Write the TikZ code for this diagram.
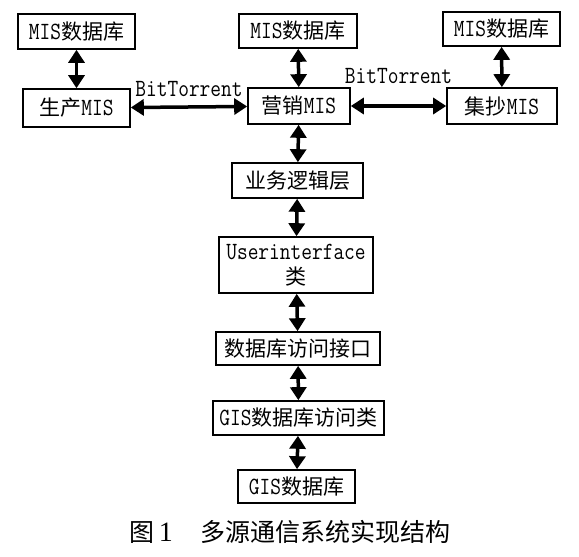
\documentclass[tikz,border=0pt]{standalone}
\usepackage{fontspec}
\setmainfont{Latin Modern Mono}[Scale=1.18, FakeStretch=0.84]
\newfontfamily\cjk{Noto Sans CJK SC}
\newfontfamily\capnum{Liberation Serif}
\usetikzlibrary{arrows.meta}
\tikzset{
  box/.style={draw, line width=1.6pt, inner sep=0pt, align=center,
    font=\fontsize{21}{25}\selectfont},
  link/.style={<->, >={Triangle[length=13pt,width=16pt]}, line width=3.5pt},
  lbl/.style={inner sep=0pt, font=\fontsize{21}{25}\selectfont}
}
\begin{document}
\begin{tikzpicture}[x=1pt, y=-1pt]
  \useasboundingbox (0,0) rectangle (579,557);
  % MIS databases
  \node[box, minimum width=117pt, minimum height=35pt] (dbA) at (76.5,31.5) {MIS{\cjk 数据库}};
  \node[box, minimum width=118pt, minimum height=34pt] (dbB) at (298,31) {MIS{\cjk 数据库}};
  \node[box, minimum width=117pt, minimum height=34pt] (dbC) at (501.5,29) {MIS{\cjk 数据库}};
  % MIS systems
  \node[box, minimum width=107pt, minimum height=38pt] (prod) at (76.5,108) {{\cjk 生产}MIS};
  \node[box, minimum width=102pt, minimum height=36pt] (sale) at (299,106) {{\cjk 营销}MIS};
  \node[box, minimum width=110pt, minimum height=36pt] (coll) at (502,106) {{\cjk 集抄}MIS};
  % Layers
  \node[box, minimum width=131pt, minimum height=35pt] (logic) at (297.5,180.5) {\cjk 业务逻辑层};
  \node[box, minimum width=154pt, minimum height=56pt] (ui) at (296,265) {Userinterface\\{\cjk 类}};
  \node[box, minimum width=164pt, minimum height=33pt] (dbif) at (298,348.5) {\cjk 数据库访问接口};
  \node[box, minimum width=171pt, minimum height=34pt] (gisc) at (298.5,418) {GIS{\cjk 数据库访问类}};
  \node[box, minimum width=117pt, minimum height=33pt] (gisdb) at (296.5,486.5) {GIS{\cjk 数据库}};
  % Links
  \draw[link] (dbA) -- (prod);
  \draw[link] (dbB) -- (sale);
  \draw[link] (dbC) -- (coll);
  \draw[link] (prod) -- node[lbl, above=9pt] (btA) {BitTorrent} (sale);
  \draw[link] (sale) -- node[lbl, above=21pt] (btB) {BitTorrent} (coll);
  \draw[link] (sale) -- (logic);
  \draw[link] (logic) -- (ui);
  \draw[link] (ui) -- (dbif);
  \draw[link] (dbif) -- (gisc);
  \draw[link] (gisc) -- (gisdb);
  % Caption
  \node[inner sep=0pt, font=\fontsize{25}{30}\selectfont\cjk] (cap) at (290,532)
    {图\,{\capnum\fontsize{28}{30}\selectfont 1}\hspace{1.1em}多源通信系统实现结构};
\end{tikzpicture}
\end{document}
